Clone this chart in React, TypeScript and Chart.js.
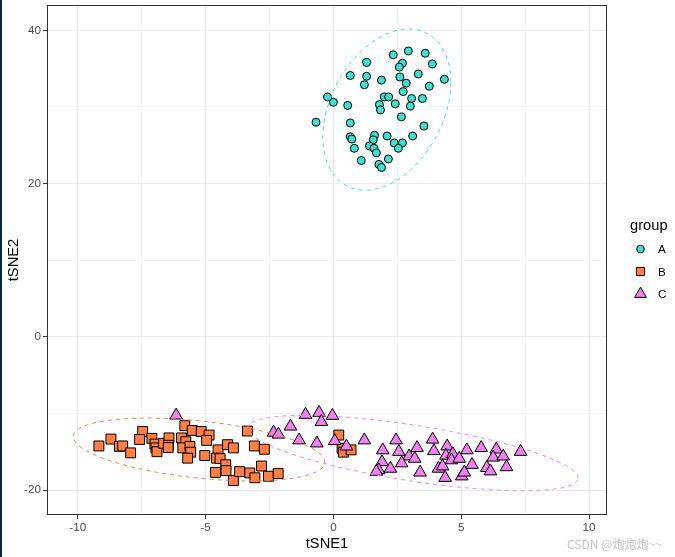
import React, { useEffect, useRef } from 'react';
import { Chart, registerables } from 'chart.js';

Chart.register(...registerables);

// ---- Data ----
const groupNames = ['A', 'B', 'C'];
const groupColors = ['#40E0D0', '#FF7F45', '#EE82EE'];

const aX = [2.93, 2.34, 3.59, 1.30, 2.70, 2.58, 3.87, 0.66, 1.30, 1.21, 1.88, 2.60, 2.85, 3.32, 4.34, 3.75, 2.73, -0.23, 0.00, 0.56, 1.99, 2.16, 1.80, 1.84, 2.42, 3.06, 3.01, 3.48, 2.66, -0.68, 0.66, 3.54, 0.66, 0.72, 1.61, 1.56, 2.10, 3.10, 0.82, 1.41, 1.59, 2.38, 2.70, 2.54, 1.68, 1.09, 2.15, 1.78, 1.88];
const aY = [37.3, 36.8, 37.0, 35.8, 35.7, 35.2, 35.6, 34.1, 34.0, 32.9, 33.5, 33.9, 33.1, 34.3, 33.6, 32.7, 32.0, 31.3, 30.6, 30.2, 31.3, 31.3, 30.3, 29.6, 30.4, 31.1, 30.1, 31.1, 28.7, 28.0, 27.9, 27.5, 26.1, 25.8, 26.3, 25.7, 26.2, 26.2, 24.6, 24.9, 24.6, 25.3, 25.3, 24.6, 24.0, 23.0, 23.2, 22.5, 22.1];

const bX = [-9.17, -8.70, -8.37, -8.24, -7.93, -7.46, -7.58, -7.10, -6.98, -6.94, -6.90, -6.64, -6.43, -6.45, -6.46, -5.81, -5.94, -5.77, -5.89, -5.61, -5.58, -5.70, -5.52, -5.17, -4.86, -4.96, -5.03, -4.51, -4.57, -4.43, -4.14, -3.91, -4.21, -4.20, -4.61, -3.91, -3.67, -3.27, -3.07, -2.81, -2.54, -2.16, -3.36, -3.09, -2.70, 0.21, 0.34, 0.39, 0.69];
const bY = [-14.25, -13.35, -14.3, -14.25, -15.15, -12.36, -13.4, -13.26, -14.0, -14.5, -15.0, -13.9, -13.2, -14.16, -14.46, -11.6, -13.2, -13.7, -14.5, -14.3, -15.06, -15.84, -12.23, -12.36, -12.83, -13.52, -15.5, -14.76, -15.84, -15.9, -14.08, -14.5, -16.7, -17.47, -17.7, -18.76, -17.6, -17.77, -18.4, -16.87, -18.2, -17.85, -12.3, -14.25, -14.68, -12.83, -14.55, -15.06, -14.76];

const cX = [-1.09, -0.56, -0.04, -0.47, -1.68, -2.34, -2.15, -1.34, -0.65, 0.05, 0.51, 1.21, 1.93, 2.45, 2.56, 2.96, 3.27, 3.18, 3.88, 3.93, 4.45, 4.40, 4.67, 4.62, 4.92, 5.22, 5.78, 6.37, 6.25, 6.64, 7.32, 1.90, 1.77, 1.68, 2.23, 2.67, 3.39, 4.11, 4.27, 4.37, 5.02, 5.12, 5.42, 6.00, 6.14, 6.77, -6.15];
const cY = [-10.17, -9.91, -10.3, -11.1, -11.7, -12.5, -12.75, -13.5, -13.9, -13.6, -14.3, -13.5, -14.8, -13.5, -15.0, -15.6, -14.5, -15.9, -13.4, -14.9, -14.3, -15.5, -15.3, -16.1, -15.9, -14.8, -14.5, -14.7, -15.75, -15.6, -15.0, -16.35, -17.4, -17.6, -17.2, -16.5, -17.7, -17.2, -16.9, -18.4, -18.2, -17.7, -16.7, -17.1, -17.55, -17.0, -10.26];

const xMajorTicks = [-10, -5, 0, 5, 10];
const yMajorTicks = [-20, 0, 20, 40];
const xTitle = 'tSNE1';
const yTitle = 'tSNE2';
const legendTitle = 'group';

// ---- helpers ----
const FONT = '"Liberation Sans", Arial, Helvetica, sans-serif';

function toPoints(xs: number[], ys: number[]) {
  return xs.map((x, i) => ({ x, y: ys[i] }));
}

// robust multivariate-t location/scatter (like MASS::cov.trob, nu = 5)
function covTrob(xs: number[], ys: number[]) {
  const n = xs.length;
  const nu = 5, p = 2;
  let w = new Array(n).fill(1);
  let lx = xs.reduce((s, v) => s + v, 0) / n;
  let ly = ys.reduce((s, v) => s + v, 0) / n;
  let dx: number[] = [], dy: number[] = [];
  for (let iter = 0; iter < 25; iter++) {
    const w0 = w.slice();
    dx = xs.map((v) => v - lx);
    dy = ys.map((v) => v - ly);
    const sw = w.reduce((s, v) => s + v, 0);
    let sxx = 0, syy = 0, sxy = 0;
    for (let i = 0; i < n; i++) {
      sxx += (w[i] * dx[i] * dx[i]) / sw;
      syy += (w[i] * dy[i] * dy[i]) / sw;
      sxy += (w[i] * dx[i] * dy[i]) / sw;
    }
    const det = sxx * syy - sxy * sxy;
    const Q = dx.map((_, i) => (syy * dx[i] * dx[i] - 2 * sxy * dx[i] * dy[i] + sxx * dy[i] * dy[i]) / det);
    w = Q.map((q) => (nu + p) / (nu + q));
    const sw2 = w.reduce((s, v) => s + v, 0);
    lx = xs.reduce((s, v, i) => s + w[i] * v, 0) / sw2;
    ly = ys.reduce((s, v, i) => s + w[i] * v, 0) / sw2;
    if (w.every((v, i) => Math.abs(v - w0[i]) < 0.01)) break;
  }
  let cxx = 0, cyy = 0, cxy = 0;
  for (let i = 0; i < n; i++) {
    cxx += w[i] * dx[i] * dx[i];
    cyy += w[i] * dy[i] * dy[i];
    cxy += w[i] * dx[i] * dy[i];
  }
  return { mx: lx, my: ly, sxx: cxx / n, syy: cyy / n, sxy: cxy / n };
}

// 95% data ellipse (as ggplot2 stat_ellipse, type "t"), derived from the points
function dataEllipse(xs: number[], ys: number[], segments = 80) {
  const n = xs.length;
  const { mx, my, sxx, syy, sxy } = covTrob(xs, ys);
  const df2 = n - 1;
  const q = (df2 / 2) * (Math.pow(0.05, -2 / df2) - 1);
  const r = Math.sqrt(2 * q);
  const a = Math.sqrt(sxx);
  const b = sxy / a;
  const c = Math.sqrt(Math.max(syy - b * b, 0));
  const pts: { x: number; y: number }[] = [];
  for (let i = 0; i <= segments; i++) {
    const t = (2 * Math.PI * i) / segments;
    pts.push({ x: mx + r * a * Math.cos(t), y: my + r * (b * Math.cos(t) + c * Math.sin(t)) });
  }
  return pts;
}

function drawMarker(ctx: CanvasRenderingContext2D, style: string, x: number, y: number, r: number, fill: string) {
  ctx.save();
  ctx.beginPath();
  if (style === 'circle') {
    ctx.arc(x, y, r, 0, Math.PI * 2);
  } else if (style === 'rect') {
    const s = Math.SQRT1_2 * r;
    ctx.rect(x - s, y - s, 2 * s, 2 * s);
  } else {
    ctx.moveTo(x, y - r);
    ctx.lineTo(x + 0.866 * r, y + 0.5 * r);
    ctx.lineTo(x - 0.866 * r, y + 0.5 * r);
    ctx.closePath();
  }
  ctx.fillStyle = fill;
  ctx.fill();
  ctx.lineWidth = 1;
  ctx.strokeStyle = '#000000';
  ctx.stroke();
  ctx.restore();
}

const panelPlugin = {
  id: 'panelBorderAndLegend',
  afterDraw(chart: any) {
    const { ctx, chartArea } = chart;
    ctx.save();
    ctx.strokeStyle = '#333333';
    ctx.lineWidth = 1;
    const l = Math.round(chartArea.left) + 0.5;
    const t = Math.round(chartArea.top) + 0.5;
    const r = Math.round(chartArea.right) - 0.5;
    const b = Math.round(chartArea.bottom) - 0.5;
    ctx.strokeRect(l, t, r - l, b - t);

    // legend
    ctx.fillStyle = '#000000';
    ctx.textBaseline = 'middle';
    ctx.textAlign = 'left';
    ctx.font = `14.7px ${FONT}`;
    ctx.fillText(legendTitle, 630, 226);
    const styles = ['circle', 'rect', 'triangle'];
    const radii = [3.8, 5.8, 6.8];
    ctx.font = `11.7px ${FONT}`;
    groupNames.forEach((g, i) => {
      const cy = 249 + i * 22.5;
      drawMarker(ctx, styles[i], 640.5, cy, radii[i], groupColors[i]);
      ctx.fillStyle = '#000000';
      ctx.fillText(g, 658, cy + 1);
    });
    ctx.restore();
  },
};

export default function App() {
  const canvasRef = useRef<HTMLCanvasElement | null>(null);

  useEffect(() => {
    const canvas = canvasRef.current;
    if (!canvas) return;
    const isMajorX = (v: number) => xMajorTicks.includes(v);
    const isMajorY = (v: number) => yMajorTicks.includes(v);

    const chart = new Chart(canvas, {
      type: 'scatter',
      data: {
        datasets: [
          { label: 'ellA', data: dataEllipse(aX, aY), showLine: true, pointRadius: 0, borderColor: groupColors[0], borderWidth: 1, borderDash: [4, 4], fill: false, order: 0 },
          { label: 'ellB', data: dataEllipse(bX, bY), showLine: true, pointRadius: 0, borderColor: groupColors[1], borderWidth: 1, borderDash: [4, 4], fill: false, order: 0 },
          { label: 'ellC', data: dataEllipse(cX, cY), showLine: true, pointRadius: 0, borderColor: groupColors[2], borderWidth: 1, borderDash: [4, 4], fill: false, order: 0 },
          { label: 'C', data: toPoints(cX, cY), pointStyle: 'triangle', pointRadius: 7.3, backgroundColor: groupColors[2], borderColor: '#000000', borderWidth: 1, order: 1 },
          { label: 'B', data: toPoints(bX, bY), pointStyle: 'rect', pointRadius: 7, backgroundColor: groupColors[1], borderColor: '#000000', borderWidth: 1, order: 2 },
          { label: 'A', data: toPoints(aX, aY), pointStyle: 'circle', pointRadius: 4, backgroundColor: groupColors[0], borderColor: '#000000', borderWidth: 1, order: 3 },
        ] as any,
      },
      options: {
        animation: false,
        responsive: false,
        events: [],
        layout: { autoPadding: false, padding: { left: 0, right: 68, top: 5, bottom: 0 } },
        plugins: { legend: { display: false }, tooltip: { enabled: false } },
        scales: {
          x: {
            type: 'linear',
            min: -11.2,
            max: 10.7,
            afterFit: (s: any) => { s.height = 42; },
            border: { display: false },
            grid: {
              color: '#EBEBEB',
              lineWidth: (c: any) => (c.tick && isMajorX(c.tick.value) ? 1 : 0.6),
              tickColor: (c: any) => (c.tick && isMajorX(c.tick.value) ? '#333333' : 'rgba(0,0,0,0)'),
              tickLength: 4,
              drawTicks: true,
            },
            ticks: {
              stepSize: 2.5,
              includeBounds: false,
              autoSkip: false,
              maxRotation: 0,
              padding: 2,
              color: '#4D4D4D',
              font: { family: FONT, size: 11.7 },
              callback: (v: any) => (isMajorX(Number(v)) ? String(v) : ''),
            },
            title: { display: true, text: xTitle, color: '#000000', font: { family: FONT, size: 14.7 }, padding: { top: 0, bottom: 4 } },
          },
          y: {
            type: 'linear',
            min: -23.26,
            max: 43.3,
            afterFit: (s: any) => { s.width = 47; s.paddingTop = 0; s.paddingBottom = 0; },
            border: { display: false },
            grid: {
              color: '#EBEBEB',
              lineWidth: (c: any) => (c.tick && isMajorY(c.tick.value) ? 1 : 0.6),
              tickColor: (c: any) => (c.tick && isMajorY(c.tick.value) ? '#333333' : 'rgba(0,0,0,0)'),
              tickLength: 4,
              drawTicks: true,
            },
            ticks: {
              stepSize: 10,
              includeBounds: false,
              autoSkip: false,
              padding: 2,
              color: '#4D4D4D',
              font: { family: FONT, size: 11.7 },
              callback: (v: any) => (isMajorY(Number(v)) ? String(v) : ''),
            },
            title: { display: true, text: yTitle, color: '#000000', font: { family: FONT, size: 14.7 }, padding: { top: 5, bottom: 0 } },
          },
        },
      } as any,
      plugins: [panelPlugin],
    });
    return () => chart.destroy();
  }, []);

  return (
    <div style={{ position: 'fixed', left: 0, top: 0, width: 675, height: 557, background: '#ffffff', overflow: 'hidden' }}>
      <canvas ref={canvasRef} width={675} height={557} style={{ width: 675, height: 557, display: 'block' }} />
      <div style={{ position: 'absolute', left: 0, top: 0, width: 2, height: 557, background: '#0f2538' }} />
      <span style={{ position: 'absolute', left: 567, top: 535, fontSize: 12, color: '#c4c4c4', fontFamily: '"Noto Sans CJK SC", "Liberation Sans", sans-serif', whiteSpace: 'nowrap' }}>CSDN @炮炮炮~~</span>
    </div>
  );
}
